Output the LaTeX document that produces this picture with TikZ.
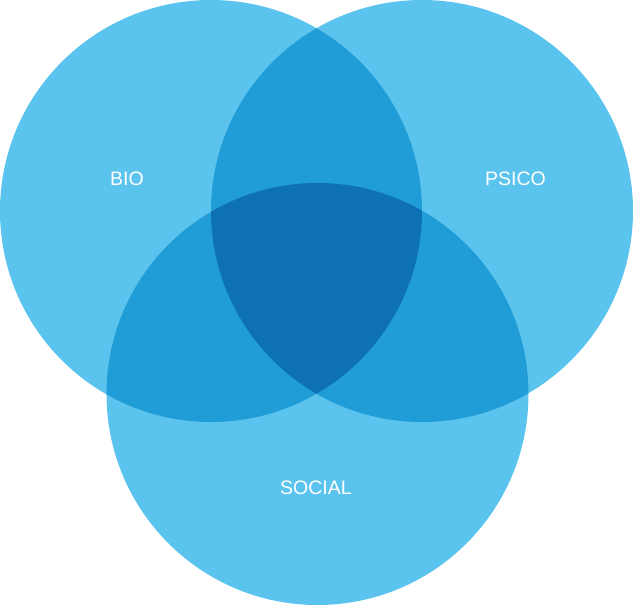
\documentclass[tikz,border=0pt]{standalone}
\usepackage{fontspec}
\setmainfont{Liberation Sans}
\definecolor{cone}{HTML}{5BC4EE}
\definecolor{ctwo}{HTML}{209CD6}
\definecolor{cthree}{HTML}{0E71B4}
\begin{document}
\begin{tikzpicture}[x=1pt,y=-1pt,
  lbl/.style={text=white,font=\fontsize{19.5}{22}\selectfont,inner sep=0pt}]
\useasboundingbox (0,0) rectangle (633,605);
\def\cbio{(211,211) circle[radius=211]}
\def\cpsi{(422,211) circle[radius=211]}
\def\csoc{(317.5,394) circle[radius=211]}
% single regions
\fill[cone] \cbio;
\fill[cone] \cpsi;
\fill[cone] \csoc;
% double overlaps
\begin{scope}\clip \cbio; \fill[ctwo] \cpsi; \fill[ctwo] \csoc; \end{scope}
\begin{scope}\clip \cpsi; \fill[ctwo] \csoc; \end{scope}
% triple overlap
\begin{scope}\clip \cbio; \clip \cpsi; \fill[cthree] \csoc; \end{scope}
\node[lbl] (bio) at (127,179) {BIO};
\node[lbl] (psico) at (515.5,179) {PSICO};
\node[lbl] (social) at (316,488) {SOCIAL};
\end{tikzpicture}
\end{document}
